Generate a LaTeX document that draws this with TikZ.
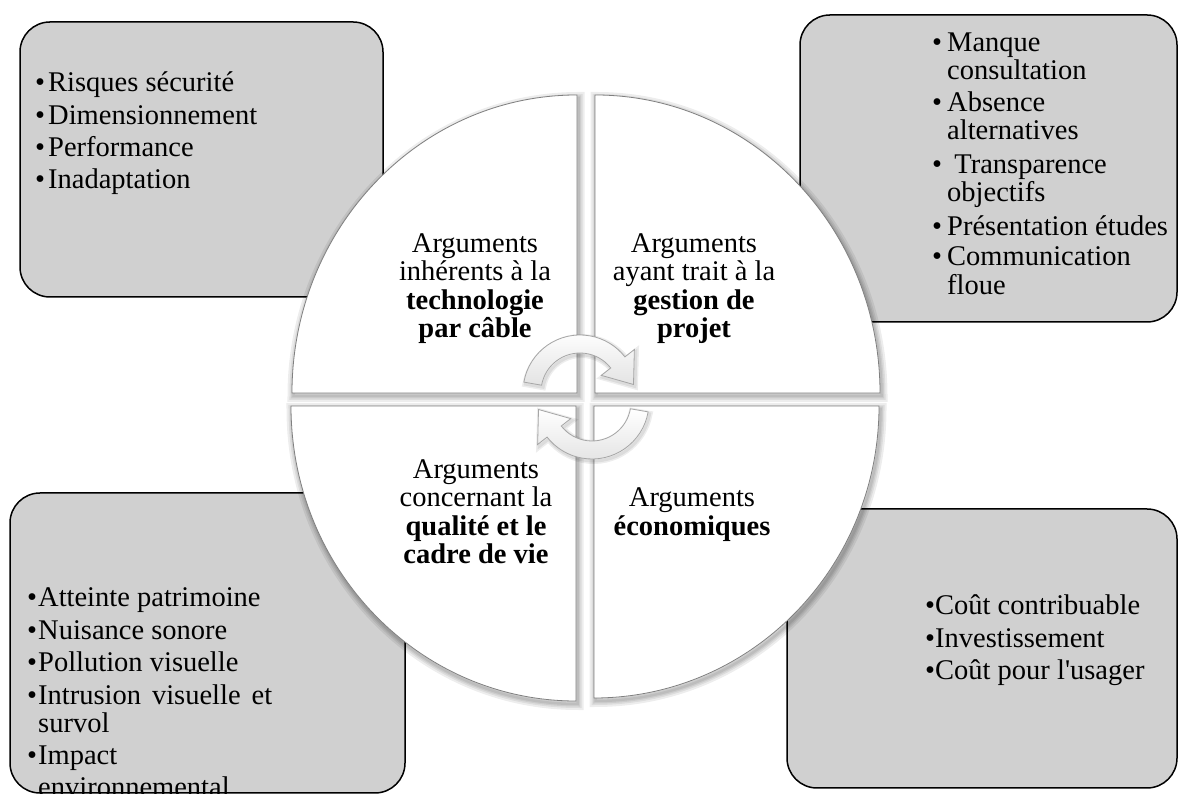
\documentclass[tikz,border=0pt]{standalone}
\usepackage{fontspec}
\setmainfont{Liberation Serif}
\definecolor{boxgray}{RGB}{208,208,208}
\definecolor{qline}{RGB}{128,128,128}
\newcommand\bul[1]{\makebox[#1][l]{•}}
\newcommand\qTL[1]{\path[#1] (577,401) -- ++(-285,0) arc[start angle=180,end angle=90,x radius=285,y radius=298] -- cycle;}
\newcommand\qTR[1]{\path[#1] (595,401) -- ++(0,298) arc[start angle=90,end angle=0,x radius=285,y radius=298] -- cycle;}
\newcommand\qBL[1]{\path[#1] (576,388) -- ++(-285,0) arc[start angle=180,end angle=270,x radius=285,y radius=295] -- cycle;}
\newcommand\qBR[1]{\path[#1] (594,388) -- ++(285,0) arc[start angle=0,end angle=-90,x radius=285,y radius=292] -- cycle;}
\newcommand\cyclearrow[1]{\path[#1] (170:57) arc[start angle=170,end angle=38,radius=57] -- (38:69) -- (8:54) -- (38:27) -- (38:39) arc[start angle=38,end angle=170,radius=39] -- cycle;}
\begin{document}
\begin{tikzpicture}[x=1pt,y=1pt,
  listbox/.style={draw=black,line width=1.5pt,fill=boxgray,rounded corners=30pt},
  quad/.style={draw=qline,line width=0.8pt,fill=white},
  shl/.style={draw=black,draw opacity=0.07,line width=#1},
  arr/.style={draw=gray!70,line width=0.8pt,top color=white,bottom color=gray!22},
  lst/.style={anchor=base west,inner sep=0pt,font=\fontsize{28.5}{30}\selectfont},
  qtxt/.style={anchor=base,inner sep=0pt,font=\fontsize{28.5}{30}\selectfont}]
\clip (0,0) rectangle (1178,794);
\fill[white] (0,0) rectangle (1178,794);
% list boxes
\path[listbox] (20,772) rectangle (383,497);
\path[listbox] (800,779) rectangle (1177,472);
\path[listbox] (10,301) rectangle (405,1);
\path[listbox] (787,285) rectangle (1177,6);
% quadrant shadows
\begin{scope}[shift={(1.5,-3)}]
\foreach \w in {12pt,8pt,5pt,2.5pt}{
  \qTL{shl=\w}\qTR{shl=\w}\qBL{shl=\w}\qBR{shl=\w}}
\end{scope}
% quadrants
\qTL{quad}\qTR{quad}\qBL{quad}\qBR{quad}
% cycle arrows
\begin{scope}[shift={(581.5,400)}]
\foreach \w in {6pt,3pt}{\cyclearrow{shl=\w}}
\end{scope}
\begin{scope}[shift={(593.5,390)},rotate=180]
\foreach \w in {6pt,3pt}{\cyclearrow{shl=\w}}
\end{scope}
\begin{scope}[shift={(580,402)}]
\cyclearrow{arr}
\end{scope}
\begin{scope}[shift={(592,392)},rotate=180]
\cyclearrow{arr}
\end{scope}
% top-left list
\node[lst] (tl1) at (35,702) {\bul{13pt}Risques sécurité};
\node[lst] (tl2) at (35,669) {\bul{13pt}Dimensionnement};
\node[lst] (tl3) at (35,637) {\bul{13pt}Performance};
\node[lst] (tl4) at (35,605) {\bul{13pt}Inadaptation};
% top-right list
\node[lst] (tr1) at (932,742) {\bul{15pt}Manque};
\node[lst] (tr1b) at (947,714) {consultation};
\node[lst] (tr2) at (932,682) {\bul{15pt}Absence};
\node[lst] (tr2b) at (947,654) {alternatives};
\node[lst] (tr3) at (932,620) {\bul{15pt} Transparence};
\node[lst] (tr3b) at (947,592) {objectifs};
\node[lst] (tr4) at (932,558) {\bul{15pt}Présentation études};
\node[lst] (tr5) at (932,528) {\bul{15pt}Communication};
\node[lst] (tr5b) at (947,499) {floue};
% bottom-left list
\node[lst] (bl1) at (27,187) {\bul{11pt}Atteinte patrimoine};
\node[lst] (bl2) at (27,154) {\bul{11pt}Nuisance sonore};
\node[lst] (bl3) at (27,122) {\bul{11pt}Pollution visuelle};
\node[lst] (bl4) at (27,89) {\bul{11pt}\makebox[234pt][s]{Intrusion visuelle et}};
\node[lst] (bl4b) at (38,61) {survol};
\node[lst] (bl5) at (27,29) {\bul{11pt}Impact};
\node[lst] (bl5b) at (38,-3) {environnemental};
% bottom-right list
\node[lst] (br1) at (925,179) {\bul{10pt}Coût contribuable};
\node[lst] (br2) at (925,146) {\bul{10pt}Investissement};
\node[lst] (br3) at (925,114) {\bul{10pt}Coût pour l\textquotesingle usager};
% quadrant texts
\node[qtxt] (qa1) at (475,541) {Arguments};
\node[qtxt] (qa2) at (475,513) {inhérents à la};
\node[qtxt] (qa3) at (475,484) {\bfseries technologie};
\node[qtxt] (qa4) at (475,456) {\bfseries par câble};
\node[qtxt] (qb1) at (694,541) {Arguments};
\node[qtxt] (qb2) at (694,513) {ayant trait à la};
\node[qtxt] (qb3) at (694,484) {\bfseries gestion de};
\node[qtxt] (qb4) at (694,456) {\bfseries projet};
\node[qtxt] (qc1) at (476,315) {Arguments};
\node[qtxt] (qc2) at (476,287) {concernant la};
\node[qtxt] (qc3) at (476,258) {\bfseries qualité et le};
\node[qtxt] (qc4) at (476,230) {\bfseries cadre de vie};
\node[qtxt] (qd1) at (692,287) {Arguments};
\node[qtxt] (qd2) at (692,258) {\bfseries économiques};
\end{tikzpicture}
\end{document}
